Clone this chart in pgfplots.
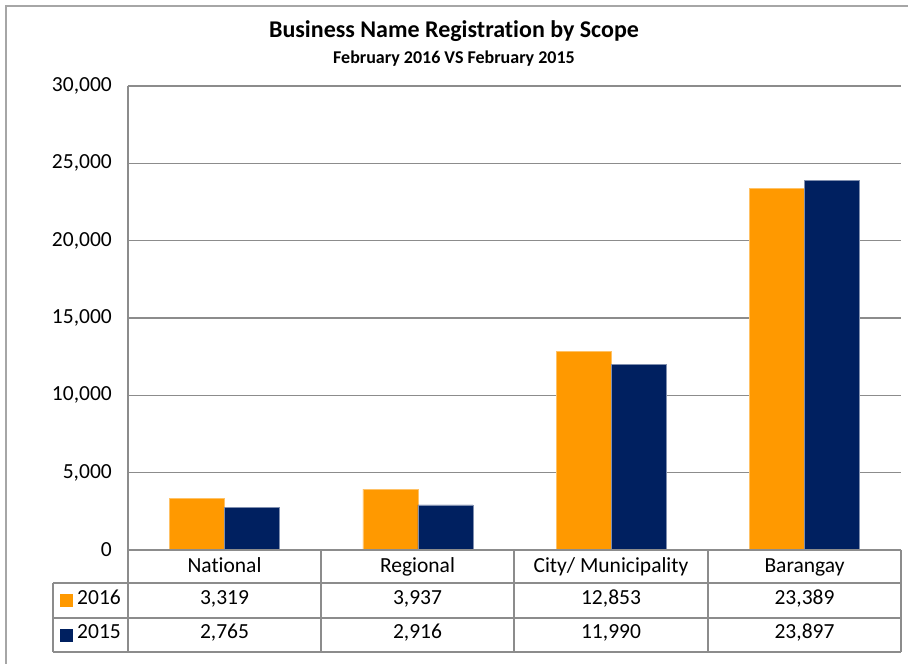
\documentclass[border=0pt]{standalone}
\usepackage{pgfplots}
\pgfplotsset{compat=1.18}
\usepackage{fontspec}
\setmainfont{Carlito}[Ligatures=NoCommon]
\definecolor{orng}{HTML}{FF9900}
\definecolor{navy}{HTML}{002060}
\definecolor{gridgray}{HTML}{8C8C8C}
\definecolor{tabgray}{HTML}{8C8C8C}
\definecolor{framegray}{HTML}{A6A6A6}
\newcommand{\lbl}{\fontsize{21.5}{25}\selectfont}
\begin{document}
\begin{tikzpicture}[x=1pt,y=1pt]
\useasboundingbox (0,0) rectangle (908,664);
\draw[framegray, line width=1.5pt] (6,0) -- (6,658) -- (908,658);
\node[anchor=base, font=\fontsize{24}{28}\selectfont\bfseries] at (454,626) {Business Name Registration by Scope};
\node[anchor=base, font=\fontsize{18}{22}\selectfont\bfseries] at (454,600) {February 2016 VS February 2015};
\begin{axis}[
  at={(128pt,114pt)}, anchor=south west,
  scale only axis, width=773pt, height=464pt,
  xmin=-0.5, xmax=3.5, ymin=0, ymax=30000,
  ytick={0,5000,10000,15000,20000,25000,30000},
  xtick=\empty,
  ymajorgrids, grid style={gridgray, line width=1.5pt},
  axis lines*=left,
  axis line style={gridgray, line width=1.5pt, -},
  major tick length=0pt,
  yticklabel style={font=\lbl, inner sep=0pt, xshift=-16pt,
    /pgf/number format/1000 sep={,},
    /pgf/number format/assume math mode=true},
  scaled y ticks=false,
  ybar, bar width=55pt,
  clip=false,
]
\addplot[fill=orng, draw=orng!60!white, line width=0.5pt, bar shift=-27.5pt] coordinates {(0,3319) (1,3937) (2,12853) (3,23389)};
\addplot[fill=navy, draw=navy!50!white, line width=0.5pt, bar shift=27.5pt] coordinates {(0,2765) (1,2916) (2,11990) (3,23897)};
\end{axis}
% data table
\begin{scope}[tabgray, line width=1.5pt]
\draw (128,114) -- (901,114);
\draw (53,81) -- (901,81);
\draw (53,46) -- (901,46);
\draw (53,12) -- (901,12);
\draw (53,81) -- (53,12);
\foreach \xx in {128,321,514,708,901} \draw (\xx,114) -- (\xx,12);
\end{scope}
\foreach \xx/\t in {224.5/National, 417.5/Regional, 611/{City/ Municipality}, 804.5/Barangay}
  \node[anchor=base, font=\lbl, inner sep=0pt] at (\xx,91) {\t};
\foreach \xx/\t in {224.5/{3,319}, 417.5/{3,937}, 611/{12,853}, 804.5/{23,389}}
  \node[anchor=base, font=\lbl, inner sep=0pt] at (\xx,59.5) {\t};
\foreach \xx/\t in {224.5/{2,765}, 417.5/{2,916}, 611/{11,990}, 804.5/{23,897}}
  \node[anchor=base, font=\lbl, inner sep=0pt] at (\xx,25) {\t};
\fill[orng] (60,57) rectangle (73,70);
\fill[navy] (60,22) rectangle (73,35);
\node[anchor=base west, font=\lbl, inner sep=0pt] at (77,59.5) {2016};
\node[anchor=base west, font=\lbl, inner sep=0pt] at (77,25) {2015};
\end{tikzpicture}
\end{document}
